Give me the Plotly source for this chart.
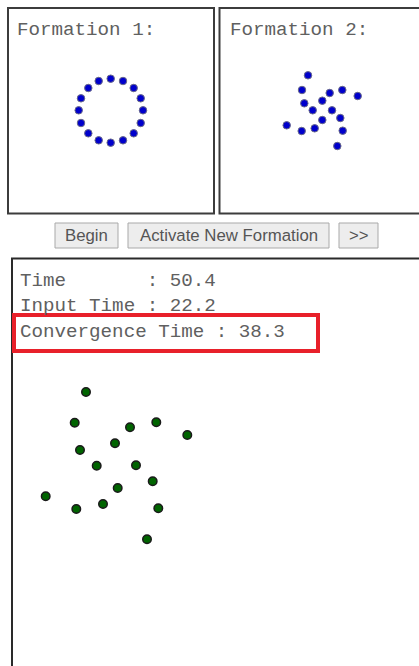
import plotly.graph_objects as go

W, H = 419, 666

# ---- data (panel-local pixel units) ----
form1_x = [102.7, 115, 125.7, 132.7, 135, 132.7, 125.7, 115, 102.7, 90.7, 80.3, 73, 70.7, 73, 80.3, 90.7]
form1_y = [70.7, 73, 80, 90.3, 102.3, 115, 125.3, 132.3, 134.7, 132.3, 125.3, 115, 102.3, 90.3, 80, 73]

form2_x = [89, 83, 110.7, 123.3, 138.7, 85.3, 103.3, 93.7, 113, 121.3, 103.3, 67.7, 82.7, 95.7, 123.7, 118.3]
form2_y = [67.3, 82, 85, 82, 88, 95.3, 92.7, 102.3, 102.3, 110, 112, 117.3, 123, 120.3, 122.7, 138]

swarm_x = [74, 62.7, 118, 144.3, 175.3, 103, 68, 84.7, 124, 140.7, 105.7, 33.7, 64.3, 91, 146.3, 135]
swarm_y = [134, 164.7, 169.3, 164.3, 177, 185.3, 192, 207.7, 207.3, 223.3, 230, 238.3, 251, 246, 250.3, 281.3]

panel_titles = ["Formation 1:", "Formation 2:"]
button_labels = ["Begin", "Activate New Formation", ">>"]
stat_labels = ["Time", "Input Time", "Convergence Time"]
stat_values = [50.4, 22.2, 38.3]

# ---- layout helpers ----
def px(x):
    return x / W

def py(y):
    return 1 - y / H

panels = [  # x0, y0, x1, y1 in page pixels
    (8, 8, 214, 213),
    (219, 8, 419, 213),
    (12, 258, 419, 666),
]

fig = go.Figure()

fig.add_trace(go.Scatter(x=form1_x, y=form1_y, mode="markers", xaxis="x", yaxis="y",
                         marker=dict(size=7.5, color="#0000cc", line=dict(width=1, color="#6a6a8a")),
                         hoverinfo="skip", showlegend=False))
fig.add_trace(go.Scatter(x=form2_x, y=form2_y, mode="markers", xaxis="x2", yaxis="y2",
                         marker=dict(size=7.5, color="#0000cc", line=dict(width=1, color="#6a6a8a")),
                         hoverinfo="skip", showlegend=False))
fig.add_trace(go.Scatter(x=swarm_x, y=swarm_y, mode="markers", xaxis="x3", yaxis="y3",
                         marker=dict(size=8.5, color="#006400", line=dict(width=1.5, color="#1a1a1a")),
                         hoverinfo="skip", showlegend=False))

axis_common = dict(visible=False, fixedrange=True, showgrid=False, zeroline=False)
layout_axes = {}
for i, (x0, y0, x1, y1) in enumerate(panels):
    s = "" if i == 0 else str(i + 1)
    layout_axes["xaxis" + s] = dict(domain=[px(x0), px(x1)], range=[0, x1 - x0],
                                    anchor="y" + s, **axis_common)
    layout_axes["yaxis" + s] = dict(domain=[py(y1), py(y0)], range=[y1 - y0, 0],
                                    anchor="x" + s, **axis_common)

shapes = []
# panel borders
shapes.append(dict(type="rect", xref="paper", yref="paper", x0=px(8), x1=px(214), y0=py(8), y1=py(213.5),
                   line=dict(color="#3c3c3c", width=2)))
shapes.append(dict(type="rect", xref="paper", yref="paper", x0=px(219.5), x1=px(440), y0=py(8), y1=py(213.5),
                   line=dict(color="#3c3c3c", width=2)))
shapes.append(dict(type="rect", xref="paper", yref="paper", x0=px(12), x1=px(440), y0=py(258.5), y1=py(700),
                   line=dict(color="#2a2a2a", width=2)))

# buttons
buttons = [(55, 118), (128, 329), (339, 378)]
for (bx0, bx1) in buttons:
    shapes.append(dict(type="rect", xref="paper", yref="paper", x0=px(bx0), x1=px(bx1), y0=py(223), y1=py(248),
                       line=dict(color="#a9a9a9", width=1), fillcolor="#ededed"))

# red highlight box
shapes.append(dict(type="rect", xref="paper", yref="paper", x0=px(14), x1=px(318), y0=py(315), y1=py(351),
                   line=dict(color="#e8202a", width=4)))

annotations = []
mono = "Liberation Mono, Courier New, monospace"
for t, x in zip(panel_titles, [15, 228]):
    annotations.append(dict(text=t, xref="paper", yref="paper", x=px(x), y=py(29.5),
                            xanchor="left", yanchor="middle", showarrow=False,
                            font=dict(family=mono, size=19.2, color="#606060")))

for (bx0, bx1), lab in zip(buttons, button_labels):
    annotations.append(dict(text=lab, xref="paper", yref="paper", x=px((bx0 + bx1) / 2), y=py(235.5),
                            xanchor="center", yanchor="middle", showarrow=False,
                            font=dict(family="Arial, Liberation Sans, sans-serif", size=16.8, color="#555555")))

pad = max(len(s) for s in stat_labels[:2])
for i, (lab, val) in enumerate(zip(stat_labels, stat_values)):
    name = lab if i == 2 else lab.ljust(pad)
    txt = (name + " : " + f"{val:.1f}").replace(" ", "\u00a0")
    annotations.append(dict(text=txt, xref="paper", yref="paper", x=px(18), y=py(280.5 + 25.5 * i),
                            xanchor="left", yanchor="middle", showarrow=False,
                            font=dict(family=mono, size=19.2, color="#606060")))

fig.update_layout(
    width=W, height=H, autosize=False,
    margin=dict(l=0, r=0, t=0, b=0, pad=0),
    paper_bgcolor="white", plot_bgcolor="white",
    shapes=shapes, annotations=annotations,
    showlegend=False,
    **layout_axes,
)

fig.write_html("out.html", config={"displayModeBar": False, "staticPlot": True},
               post_script="document.body.style.margin='0';")
